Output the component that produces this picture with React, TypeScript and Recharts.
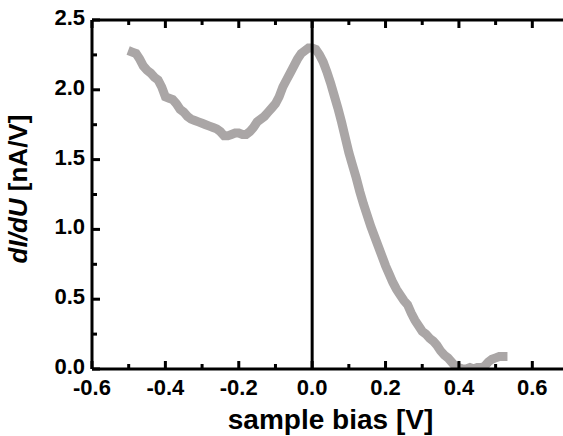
import React from "react";
import {
  LineChart, Line, XAxis, YAxis, ReferenceLine, Label,
} from "recharts";

// sample bias [V]
const biasValues = [
  -0.49, -0.48, -0.47, -0.46, -0.45, -0.44, -0.43, -0.42, -0.41, -0.40,
  -0.39, -0.38, -0.37, -0.36, -0.35, -0.34, -0.33, -0.32, -0.31, -0.30,
  -0.29, -0.28, -0.27, -0.26, -0.25, -0.24, -0.23, -0.22, -0.21, -0.20,
  -0.19, -0.18, -0.17, -0.16, -0.15, -0.14, -0.13, -0.12, -0.11, -0.10,
  -0.09, -0.08, -0.07, -0.06, -0.05, -0.04, -0.03, -0.02, -0.01, 0.0,
  0.01, 0.02, 0.03, 0.04, 0.05, 0.06, 0.07, 0.08, 0.09, 0.10,
  0.11, 0.12, 0.13, 0.14, 0.15, 0.16, 0.17, 0.18, 0.19, 0.20,
  0.21, 0.22, 0.23, 0.24, 0.25, 0.26, 0.27, 0.28, 0.29, 0.30,
  0.31, 0.32, 0.33, 0.34, 0.35, 0.36, 0.37, 0.38, 0.39, 0.40,
  0.41, 0.42, 0.43, 0.44, 0.45, 0.46, 0.47, 0.48, 0.49, 0.50,
  0.51, 0.52,
];

// dI/dU [nA/V]
const didu = [
  2.27, 2.26, 2.22, 2.17, 2.14, 2.12, 2.09, 2.07, 2.02, 1.95,
  1.94, 1.93, 1.90, 1.86, 1.84, 1.81, 1.79, 1.78, 1.77, 1.76,
  1.75, 1.74, 1.73, 1.72, 1.70, 1.67, 1.67, 1.68, 1.69, 1.69,
  1.68, 1.68, 1.70, 1.73, 1.77, 1.79, 1.81, 1.84, 1.87, 1.90,
  1.95, 2.02, 2.07, 2.12, 2.17, 2.22, 2.26, 2.28, 2.30, 2.30,
  2.29, 2.25, 2.20, 2.13, 2.05, 1.96, 1.87, 1.77, 1.66, 1.55,
  1.46, 1.37, 1.27, 1.18, 1.10, 1.02, 0.95, 0.88, 0.81, 0.74,
  0.68, 0.62, 0.57, 0.53, 0.49, 0.46, 0.40, 0.35, 0.31, 0.27,
  0.25, 0.22, 0.20, 0.17, 0.13, 0.10, 0.08, 0.05, 0.02, 0.01,
  0.00, 0.00, 0.01, 0.00, 0.01, 0.01, 0.02, 0.05, 0.07, 0.08,
  0.09, 0.09,
];

const xTicks = [-0.6, -0.5, -0.4, -0.3, -0.2, -0.1, 0, 0.1, 0.2, 0.3, 0.4, 0.5, 0.6];
const yTicks = [0, 0.25, 0.5, 0.75, 1, 1.25, 1.5, 1.75, 2, 2.25, 2.5];

const data = biasValues.map((v, i) => ({ bias: v, didu: didu[i] }));

const FONT = "'Liberation Sans', Arial, sans-serif";
const isMajor = (v: number, step: number) => Math.abs(v / step - Math.round(v / step)) < 1e-6;

// inward ticks drawn as small filled rects, major ones longer
const BottomTick = (props: any) => {
  const { x, y, payload } = props;
  const major = isMajor(payload.value, 0.2);
  const len = major ? 8 : 5;
  return (
    <g>
      <rect x={x - 1.5} y={y - len} width={3} height={len} fill="#000" />
      {major && (
        <text x={x} y={y + 26} textAnchor="middle" fontFamily={FONT} fontWeight="bold" fontSize={22} fill="#000" stroke="none">
          {payload.value.toFixed(1)}
        </text>
      )}
    </g>
  );
};

const TopTick = (props: any) => {
  const { x, y, payload } = props;
  const len = isMajor(payload.value, 0.2) ? 8 : 5;
  return <rect x={x - 1.5} y={y} width={3} height={len} fill="#000" />;
};

const LeftTick = (props: any) => {
  const { x, y, payload } = props;
  const major = isMajor(payload.value, 0.5);
  const len = major ? 8 : 5;
  return (
    <g>
      <rect x={x} y={y - 1.5} width={len} height={3} fill="#000" />
      {major && (
        <text x={x - 7} y={y + 5} textAnchor="end" fontFamily={FONT} fontWeight="bold" fontSize={22} fill="#000" stroke="none">
          {payload.value.toFixed(1)}
        </text>
      )}
    </g>
  );
};

const RightTick = (props: any) => {
  const { x, y, payload } = props;
  const len = isMajor(payload.value, 0.5) ? 8 : 5;
  return <rect x={x - len} y={y - 1.5} width={len} height={3} fill="#000" />;
};

export default function App() {
  return (
    <div style={{ position: "absolute", left: 0, top: 0, width: 563, height: 436, overflow: "hidden", background: "#fff" }}>
      <LineChart width={580} height={436} data={data} margin={{ top: 0, right: 0, bottom: 0, left: 0 }}>
        <XAxis
          xAxisId="b"
          dataKey="bias"
          type="number"
          domain={[-0.6, 0.7]}
          ticks={xTicks}
          interval={0}
          height={67}
          tickSize={0}
          tickMargin={0}
          tickLine={false}
          tick={BottomTick}
          axisLine={{ stroke: "#000", strokeWidth: 3 }}
        >
          <Label
            content={({ viewBox }: any) => (
              <text
                x={viewBox.x + viewBox.width / 2}
                y={viewBox.y + 60}
                textAnchor="middle"
                fontFamily={FONT}
                fontWeight="bold"
                fontSize={28}
                fill="#000"
              >
                sample bias [V]
              </text>
            )}
          />
        </XAxis>
        <XAxis
          xAxisId="t"
          orientation="top"
          dataKey="bias"
          type="number"
          domain={[-0.6, 0.7]}
          ticks={xTicks}
          interval={0}
          height={20}
          tickSize={0}
          tickMargin={0}
          tickLine={false}
          tick={TopTick}
          axisLine={{ stroke: "#000", strokeWidth: 3 }}
        />
        <YAxis
          yAxisId="l"
          type="number"
          domain={[0, 2.5]}
          ticks={yTicks}
          interval={0}
          allowDataOverflow
          width={92}
          tickSize={0}
          tickMargin={0}
          tickLine={false}
          tick={LeftTick}
          axisLine={{ stroke: "#000", strokeWidth: 3 }}
        >
          <Label
            content={() => {
              const cx = 27;
              const cy = 189;
              return (
                <text
                  x={cx}
                  y={cy}
                  transform={`rotate(-90, ${cx}, ${cy})`}
                  textAnchor="middle"
                  fontFamily={FONT}
                  fontWeight="bold"
                  fontSize={26}
                  fill="#000"
                >
                  <tspan fontStyle="italic">dI/dU</tspan> [nA/V]
                </text>
              );
            }}
          />
        </YAxis>
        <YAxis
          yAxisId="r"
          orientation="right"
          type="number"
          domain={[0, 2.5]}
          ticks={yTicks}
          interval={0}
          width={11}
          tickSize={0}
          tickMargin={0}
          tickLine={false}
          tick={RightTick}
          axisLine={{ stroke: "#000", strokeWidth: 3 }}
        />
        <Line
          xAxisId="b"
          yAxisId="l"
          dataKey="didu"
          stroke="#aaa6a6"
          strokeWidth={9}
          strokeLinecap="square"
          dot={false}
          type="linear"
          isAnimationActive={false}
        />
        <ReferenceLine xAxisId="b" yAxisId="l" x={0} stroke="#000" strokeWidth={3} />
      </LineChart>
    </div>
  );
}
